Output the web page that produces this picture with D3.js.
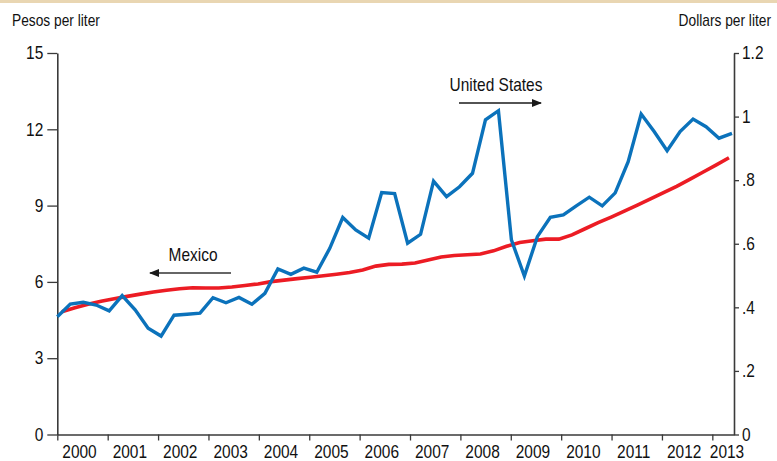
<!DOCTYPE html>
<html>
<head>
<meta charset="utf-8">
<script src="https://cdn.jsdelivr.net/npm/d3@7"></script>
<style>
  body { margin: 0; background: #fff; }
  svg { display: block; }
  text { font-family: "Liberation Sans", Arial, sans-serif; fill: #111; }
  /* fake a condensed face: squeeze the glyphs horizontally */
  text.cond { transform-box: fill-box; transform: scaleX(0.86); }
</style>
</head>
<body>
<script>
// chart data (quarterly)
var years = [2000, 2001, 2002, 2003, 2004, 2005, 2006, 2007, 2008, 2009, 2010, 2011, 2012, 2013];
var leftTicks = [0, 3, 6, 9, 12, 15];
var rightTicks = [0, 0.2, 0.4, 0.6, 0.8, 1, 1.2];
var rightTickLabels = ["0", ".2", ".4", ".6", ".8", "1", "1.2"];

// United States, pesos per liter, 2000Q1 - 2013Q1
var usPrice = [4.63, 5.13, 5.20, 5.09, 4.86, 5.46, 4.90, 4.18, 3.87, 4.69,
               4.73, 4.77, 5.38, 5.18, 5.39, 5.12, 5.55, 6.51, 6.30, 6.54,
               6.38, 7.32, 8.53, 8.04, 7.72, 9.51, 9.47, 7.52, 7.87, 9.96,
               9.35, 9.74, 10.27, 12.37, 12.73, 7.65, 6.23, 7.78, 8.54, 8.63,
               8.99, 9.33, 8.99, 9.50, 10.73, 12.60, 11.91, 11.16, 11.91, 12.40,
               12.10, 11.65, 11.84];

// Mexico, pesos per liter
var mxPrice = [4.83, 4.98, 5.12, 5.24, 5.34, 5.43, 5.52, 5.60, 5.67, 5.73,
               5.77, 5.76, 5.76, 5.80, 5.86, 5.92, 6.01, 6.07, 6.13, 6.18,
               6.24, 6.30, 6.37, 6.47, 6.62, 6.69, 6.70, 6.74, 6.86, 6.98,
               7.04, 7.07, 7.10, 7.22, 7.40, 7.55, 7.62, 7.68, 7.68, 7.85,
               8.09, 8.33, 8.55, 8.78, 9.02, 9.26, 9.51, 9.76, 10.03, 10.31,
               10.59, 10.88];

var W = 777, H = 461;
var margin = {top: 53, right: 43, bottom: 26.5, left: 57.3};
var width = W - margin.left - margin.right,
    height = H - margin.top - margin.bottom;

// squeeze text around its anchor side
function condense(sel, origin) {
  sel.classed("cond", true).style("transform-origin", origin);
}

var svg = d3.select("body")
  .append("svg")
    .attr("width", W)
    .attr("height", H);

// beige rule at the very top
svg.append("rect")
  .attr("x", 0).attr("y", 0)
  .attr("width", W).attr("height", 3)
  .attr("fill", "#e9d6b2");

var g = svg.append("g")
  .attr("transform", "translate(" + margin.left + "," + margin.top + ")");

var x = d3.scaleLinear().domain([2000, 2013.43]).range([0, width]);
var y = d3.scaleLinear().domain([0, 15]).range([height, 0]);
var y2 = d3.scaleLinear().domain([0, 1.2]).range([height, 0]);

// index scales for the two series
var xUS = d3.scaleLinear().domain([0, usPrice.length - 1]).range([x(2000), x(2013.39)]);
var xMX = d3.scaleLinear().domain([0, mxPrice.length - 1]).range([x(2000.09), x(2013.33)]);

var axisColor = "#3a3a3a";

// left axis
var left = g.append("g")
  .call(d3.axisLeft(y).tickValues(leftTicks).tickSize(10).tickPadding(4).tickSizeOuter(0));
left.select(".domain").attr("stroke", axisColor).attr("stroke-width", 1.6);
left.selectAll(".tick line").attr("stroke", axisColor).attr("stroke-width", 1.3);
left.selectAll("text").style("font-size", "18px").attr("fill", "#111").attr("font-family", null)
  .call(condense, "100% 50%");

// right axis
var right = g.append("g")
  .attr("transform", "translate(" + width + ",0)")
  .call(d3.axisRight(y2).tickValues(rightTicks).tickSize(5).tickPadding(3).tickSizeOuter(0)
    .tickFormat(function(d, i) { return rightTickLabels[i]; }));
right.select(".domain").attr("stroke", axisColor).attr("stroke-width", 1.6);
right.selectAll(".tick line").attr("stroke", axisColor).attr("stroke-width", 1.3);
right.selectAll("text").style("font-size", "18px").attr("fill", "#111").attr("font-family", null)
  .call(condense, "0% 50%");

// bottom axis: ticks at year starts, labels inside the years
var bottom = g.append("g")
  .attr("transform", "translate(0," + height + ")")
  .call(d3.axisBottom(x).tickValues(years).tickSize(6).tickFormat("").tickSizeOuter(0));
bottom.select(".domain").attr("stroke", axisColor).attr("stroke-width", 1.6);
bottom.selectAll(".tick line").attr("stroke", axisColor).attr("stroke-width", 1.3);

g.selectAll(".year-label")
  .data(years)
  .enter()
  .append("text")
    .attr("class", "year-label")
    .attr("x", function(d) { return Math.min(x(d + 0.5) - 3, width - 7); })
    .attr("y", height + 23.5)
    .attr("text-anchor", "middle")
    .style("font-size", "18px")
    .text(function(d) { return d; })
    .call(condense, "50% 50%");

// axis titles
svg.append("text")
  .attr("x", 12)
  .attr("y", 26)
  .style("font-size", "16px")
  .text("Pesos per liter")
  .call(condense, "0% 50%");

svg.append("text")
  .attr("x", 771)
  .attr("y", 26)
  .attr("text-anchor", "end")
  .style("font-size", "16px")
  .text("Dollars per liter")
  .call(condense, "100% 50%");

// lines
var lineMX = d3.line()
  .x(function(d, i) { return xMX(i); })
  .y(function(d) { return y(d); });

var lineUS = d3.line()
  .x(function(d, i) { return xUS(i); })
  .y(function(d) { return y(d); });

g.append("path")
  .datum(mxPrice)
  .attr("fill", "none")
  .attr("stroke", "#ec1c24")
  .attr("stroke-width", 3.6)
  .attr("d", lineMX);

g.append("path")
  .datum(usPrice)
  .attr("fill", "none")
  .attr("stroke", "#0b72bb")
  .attr("stroke-width", 3.4)
  .attr("d", lineUS);

// arrow markers
var defs = svg.append("defs");
defs.append("marker")
  .attr("id", "arrow")
  .attr("viewBox", "0 0 10 10")
  .attr("refX", 9).attr("refY", 5)
  .attr("markerWidth", 10).attr("markerHeight", 10)
  .attr("markerUnits", "userSpaceOnUse")
  .attr("orient", "auto")
  .append("path")
    .attr("d", "M0,1 L10,5 L0,9 Z")
    .attr("fill", "#1a1a1a");

// series labels
svg.append("text")
  .attr("x", 496)
  .attr("y", 91)
  .attr("text-anchor", "middle")
  .style("font-size", "18px")
  .text("United States")
  .call(condense, "50% 50%");

svg.append("line")
  .attr("x1", 459).attr("y1", 103)
  .attr("x2", 541).attr("y2", 103)
  .attr("stroke", "#1a1a1a")
  .attr("stroke-width", 1.3)
  .attr("marker-end", "url(#arrow)");

svg.append("text")
  .attr("x", 193)
  .attr("y", 261.5)
  .attr("text-anchor", "middle")
  .style("font-size", "18px")
  .text("Mexico")
  .call(condense, "50% 50%");

svg.append("line")
  .attr("x1", 231).attr("y1", 273)
  .attr("x2", 150).attr("y2", 273)
  .attr("stroke", "#333")
  .attr("stroke-width", 1.3)
  .attr("marker-end", "url(#arrow)");
</script>
</body>
</html>
